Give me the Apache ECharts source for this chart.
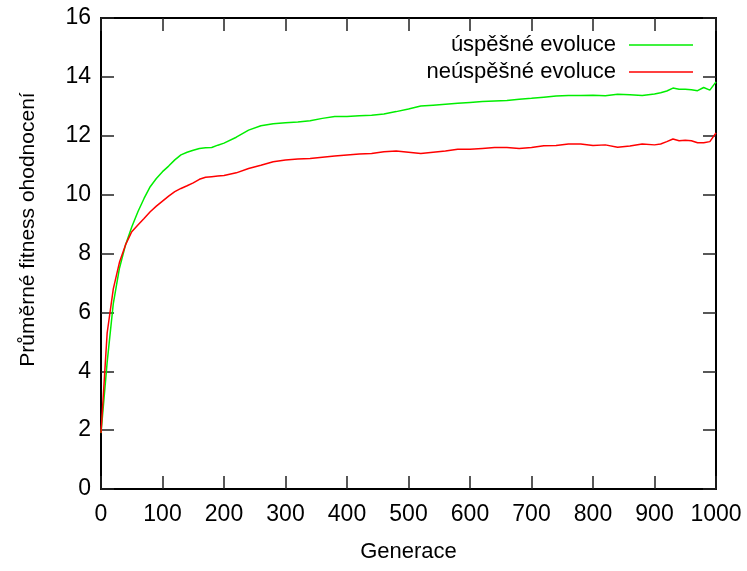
<!DOCTYPE html>
<html>
<head>
<meta charset="utf-8">
<title>Průměrné fitness ohodnocení</title>
<script src="https://cdn.jsdelivr.net/npm/echarts@6/dist/echarts.min.js"></script>
<style>
  html, body { margin: 0; padding: 0; background: #fff; }
  #chart { width: 747px; height: 571px; }
</style>
</head>
<body>
<div id="chart"></div>
<script>
// generace (x)
var generations = [
  0, 10, 20, 30, 40, 50, 60, 70, 80, 90, 100, 110, 120, 130, 140, 150, 160, 170, 180, 190, 200,
  220, 240, 260, 280, 300, 320, 340, 360, 380, 400, 420, 440, 460, 480, 500,
  520, 540, 560, 580, 600, 620, 640, 660, 680, 700, 720, 740, 760, 780, 800,
  820, 840, 860, 880, 900, 910, 920, 930, 940, 950, 960, 970, 980, 990, 1000
];
// úspěšné evoluce
var successful = [
  1.9, 4.3, 6.3, 7.5, 8.3, 8.9, 9.42, 9.87, 10.27, 10.55, 10.78, 10.97, 11.18, 11.35, 11.44, 11.51, 11.57, 11.59, 11.6, 11.68, 11.75,
  11.95, 12.19, 12.34, 12.41, 12.44, 12.47, 12.51, 12.59, 12.65, 12.65, 12.68, 12.7, 12.74, 12.82, 12.91,
  13.01, 13.04, 13.07, 13.1, 13.13, 13.16, 13.18, 13.2, 13.24, 13.27, 13.31, 13.35, 13.37, 13.37, 13.38,
  13.36, 13.41, 13.39, 13.37, 13.42, 13.46, 13.52, 13.62, 13.58, 13.58, 13.56, 13.53, 13.64, 13.55, 13.83
];
// neúspěšné evoluce
var unsuccessful = [
  1.9, 5.3, 6.8, 7.7, 8.3, 8.74, 8.97, 9.19, 9.42, 9.61, 9.78, 9.95, 10.1, 10.21, 10.3, 10.4, 10.52, 10.59, 10.61, 10.63, 10.65,
  10.74, 10.89, 11.0, 11.12, 11.18, 11.21, 11.23, 11.27, 11.31, 11.35, 11.38, 11.4, 11.46, 11.48, 11.44,
  11.4, 11.44, 11.48, 11.54, 11.54, 11.57, 11.6, 11.6, 11.57, 11.6, 11.66, 11.67, 11.72, 11.72, 11.67,
  11.69, 11.61, 11.65, 11.72, 11.69, 11.72, 11.8, 11.89, 11.83, 11.85, 11.83, 11.76, 11.76, 11.8, 12.1
];
var seriesNames = ["úspěšné evoluce", "neúspěšné evoluce"];

function pairs(xs, ys) {
  return xs.map(function (x, i) { return [x, ys[i]]; });
}

var font = "'Liberation Sans', Arial, Helvetica, sans-serif";
var axisLine = { show: true, onZero: false, lineStyle: { color: "#000", width: 2 } };
var axisTick = { show: true, inside: true, length: 13, lineStyle: { color: "#222", width: 1.5 } };
var plain = function (v) { return String(v); };

var chart = echarts.init(document.getElementById("chart"), null, { renderer: "canvas" });
chart.setOption({
  animation: false,
  backgroundColor: "#fff",
  grid: { left: 101, right: 31, top: 18, bottom: 82 },
  legend: {
    orient: "vertical",
    right: 49,
    top: 29,
    align: "right",
    icon: "rect",
    itemWidth: 64,
    itemHeight: 1.5,
    itemGap: 5,
    data: seriesNames,
    textStyle: { fontFamily: font, fontSize: 22, color: "#000", padding: [0, 8, 0, 0] }
  },
  xAxis: [
    {
      type: "value",
      min: 0,
      max: 1000,
      interval: 100,
      name: "Generace",
      nameLocation: "middle",
      nameGap: 52,
      nameTextStyle: { fontFamily: font, fontSize: 22, color: "#000" },
      axisLine: axisLine,
      axisTick: axisTick,
      splitLine: { show: false },
      axisLabel: { fontFamily: font, fontSize: 23, color: "#000", margin: 14, formatter: plain }
    },
    {
      type: "value",
      position: "top",
      min: 0,
      max: 1000,
      interval: 100,
      axisLine: axisLine,
      axisTick: axisTick,
      splitLine: { show: false },
      axisLabel: { show: false }
    }
  ],
  yAxis: [
    {
      type: "value",
      min: 0,
      max: 16,
      interval: 2,
      name: "Průměrné fitness ohodnocení",
      nameLocation: "middle",
      nameRotate: 90,
      nameGap: 62,
      nameTextStyle: { fontFamily: font, fontSize: 21, color: "#000", padding: [0, 0, 0, 48] },
      axisLine: axisLine,
      axisTick: axisTick,
      splitLine: { show: false },
      axisLabel: { fontFamily: font, fontSize: 23, color: "#000", margin: 10, formatter: plain }
    },
    {
      type: "value",
      position: "right",
      min: 0,
      max: 16,
      interval: 2,
      axisLine: axisLine,
      axisTick: axisTick,
      splitLine: { show: false },
      axisLabel: { show: false }
    }
  ],
  series: [
    {
      name: seriesNames[0],
      type: "line",
      symbol: "none",
      data: pairs(generations, successful),
      itemStyle: { color: "#00ee00" },
      lineStyle: { color: "#00ee00", width: 1.5 }
    },
    {
      name: seriesNames[1],
      type: "line",
      symbol: "none",
      data: pairs(generations, unsuccessful),
      itemStyle: { color: "#ff0000" },
      lineStyle: { color: "#ff0000", width: 1.5 }
    }
  ]
});
</script>
</body>
</html>
